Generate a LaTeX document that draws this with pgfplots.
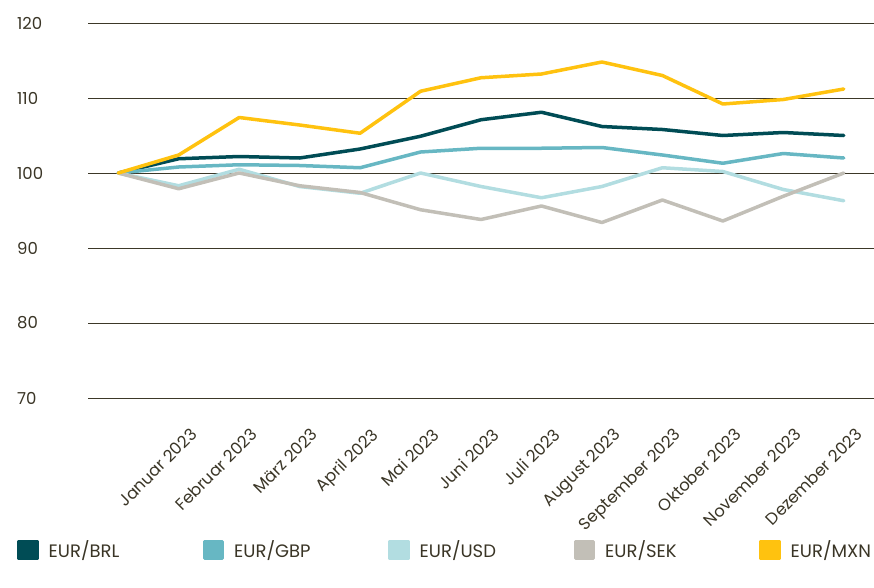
\documentclass[border=0pt]{standalone}
\usepackage{fontspec}
\setmainfont{Poppins}
\usepackage{pgfplots}
\pgfplotsset{compat=1.18}

\definecolor{brl}{HTML}{004C55}
\definecolor{gbp}{HTML}{67B7C3}
\definecolor{usd}{HTML}{B2DDE1}
\definecolor{sek}{HTML}{C2BFB7}
\definecolor{mxn}{HTML}{FFC20F}
\definecolor{txt}{HTML}{3A3526}
\definecolor{gridc}{HTML}{3C3828}

\begin{document}
\begin{tikzpicture}
\begin{axis}[
    scale only axis,
    width=786pt, height=375pt,
    xmin=-0.5, xmax=12.5,
    ymin=70, ymax=120,
    ytick={70,80,...,120},
    xtick={1,...,12},
    xticklabels={Januar 2023, Februar 2023, März 2023, April 2023, Mai 2023, Juni 2023,
                 Juli 2023, August 2023, September 2023, Oktober 2023, November 2023, Dezember 2023},
    axis line style={draw=none},
    major tick length=0pt,
    ymajorgrids,
    grid style={gridc, line width=0.8pt},
    /pgf/number format/assume math mode=true,
    tick label style={font=\fontsize{16.5}{18}\selectfont, text=txt},
    yticklabel style={anchor=west, inner sep=0pt, xshift=-71pt},
    xticklabel style={rotate=45, anchor=north east, inner sep=0pt, xshift=-13pt, yshift=-28pt},
    every axis plot/.append style={line width=3.5pt, line join=round, line cap=round},
    clip=false,
    legend columns=5,
    legend style={at={(0,0)}, anchor=west, xshift=-71pt, yshift=-152pt,
        draw=none, fill=none, inner sep=0pt,
        font=\fontsize{18}{20}\selectfont, text=txt,
        nodes={inner sep=0pt},
        /tikz/every odd column/.append style={column sep=10pt}},
    legend image code/.code={\fill[#1] (0pt,-8.5pt) rectangle (18pt,8.5pt);},
]
\addplot[brl] coordinates {
    (0,100) (1,101.9) (2,102.2) (3,102.0) (4,103.2) (5,104.9) (6,107.1)
    (7,108.1) (8,106.2) (9,105.8) (10,105.0) (11,105.4) (12,105.0)
};
\addplot[gbp] coordinates {
    (0,100) (1,100.8) (2,101.1) (3,101.0) (4,100.7) (5,102.8) (6,103.3)
    (7,103.3) (8,103.4) (9,102.4) (10,101.3) (11,102.6) (12,102.0)
};
\addplot[usd] coordinates {
    (0,100) (1,98.3) (2,100.5) (3,98.2) (4,97.3) (5,100.0) (6,98.2)
    (7,96.7) (8,98.2) (9,100.7) (10,100.2) (11,97.8) (12,96.3)
};
\addplot[sek] coordinates {
    (0,100) (1,97.9) (2,100.0) (3,98.3) (4,97.4) (5,95.1) (6,93.8)
    (7,95.6) (8,93.4) (9,96.4) (10,93.6) (11,96.9) (12,100.0)
};
\addplot[mxn] coordinates {
    (0,100) (1,102.4) (2,107.4) (3,106.4) (4,105.3) (5,110.9) (6,112.7)
    (7,113.2) (8,114.8) (9,113.0) (10,109.2) (11,109.8) (12,111.2)
};
\legend{\makebox[154pt][l]{EUR/BRL}, \makebox[154pt][l]{EUR/GBP}, \makebox[154pt][l]{EUR/USD},
        \makebox[154pt][l]{EUR/SEK}, \makebox[154pt][l]{EUR/MXN}}
\coordinate (sw) at (rel axis cs:0,0);
\coordinate (ne) at (rel axis cs:1,1);
\end{axis}
\pgfresetboundingbox
\path ([xshift=-88pt,yshift=-189pt]sw) rectangle ([yshift=23pt]ne);
\end{tikzpicture}
\end{document}
